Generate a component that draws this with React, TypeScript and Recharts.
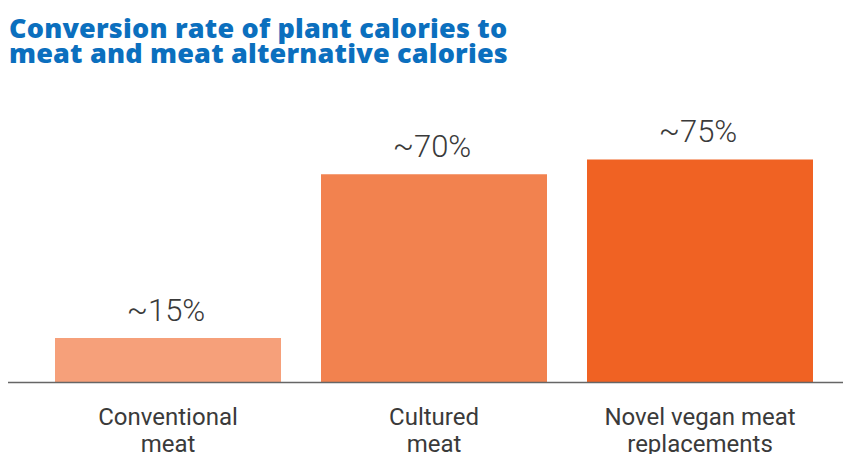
import React from "react";
import { BarChart, Bar, XAxis, YAxis, Cell, LabelList } from "recharts";

const categories = ["Conventional\nmeat", "Cultured\nmeat", "Novel vegan meat\nreplacements"];
const values = [15, 70, 75];
const valueLabels = ["~15%", "~70%", "~75%"];
const colors = ["#F6A07A", "#F2824F", "#F06223"];
const titleLines = ["Conversion rate of plant calories to", "meat and meat alternative calories"];

const data = categories.map((c, i) => ({ name: c, value: values[i], label: valueLabels[i] }));

const CategoryTick = (props: any) => {
  const { x, y, payload } = props;
  const lines = String(payload.value).split("\n");
  return (
    <g transform={`translate(${x},${y})`}>
      <text textAnchor="middle" fill="#3a3a3a" fontFamily="Roboto" fontSize={24}>
        {lines.map((l, i) => (
          <tspan key={i} x={0} y={42.5 + i * 27}>
            {l}
          </tspan>
        ))}
      </text>
    </g>
  );
};

const ValueLabel = (props: any) => {
  const { x, y, width, index } = props;
  return (
    <text
      x={x + width / 2 - 2}
      y={y - 17}
      textAnchor="middle"
      fill="#3a3a3a"
      fontFamily="Roboto"
      fontWeight={300}
      fontSize={31}
    >
      {valueLabels[index]}
    </text>
  );
};

export default function App() {
  return (
    <div
      style={{
        position: "absolute",
        left: 0,
        top: 0,
        width: 843,
        height: 454,
        background: "#fff",
        overflow: "hidden",
      }}
    >
      <div
        style={{
          position: "absolute",
          left: 9,
          top: 15,
          fontFamily: "'Open Sans'",
          fontWeight: 800,
          fontSize: 27,
          lineHeight: "25px",
          letterSpacing: 0.2,
          color: "#0B6FBE",
          whiteSpace: "nowrap",
        }}
      >
        {titleLines.map((t, i) => (
          <div key={i}>{t}</div>
        ))}
      </div>
      <div style={{ position: "absolute", left: 0, top: 0 }}>
        <BarChart
          width={843}
          height={454}
          data={data}
          margin={{ top: 85, right: 0, left: 8, bottom: 0 }}
        >
          <YAxis hide domain={[0, 100]} />
          <XAxis
            dataKey="name"
            height={71.5}
            padding={{ left: 27, right: 10 }}
            axisLine={{ stroke: "#666", strokeWidth: 1.5 }}
            tickLine={false}
            tickSize={0}
            tickMargin={0}
            interval={0}
            tick={<CategoryTick />}
          />
          <Bar dataKey="value" barSize={226} isAnimationActive={false}>
            {data.map((d, i) => (
              <Cell key={i} fill={colors[i]} />
            ))}
            <LabelList dataKey="label" content={<ValueLabel />} />
          </Bar>
        </BarChart>
      </div>
    </div>
  );
}
